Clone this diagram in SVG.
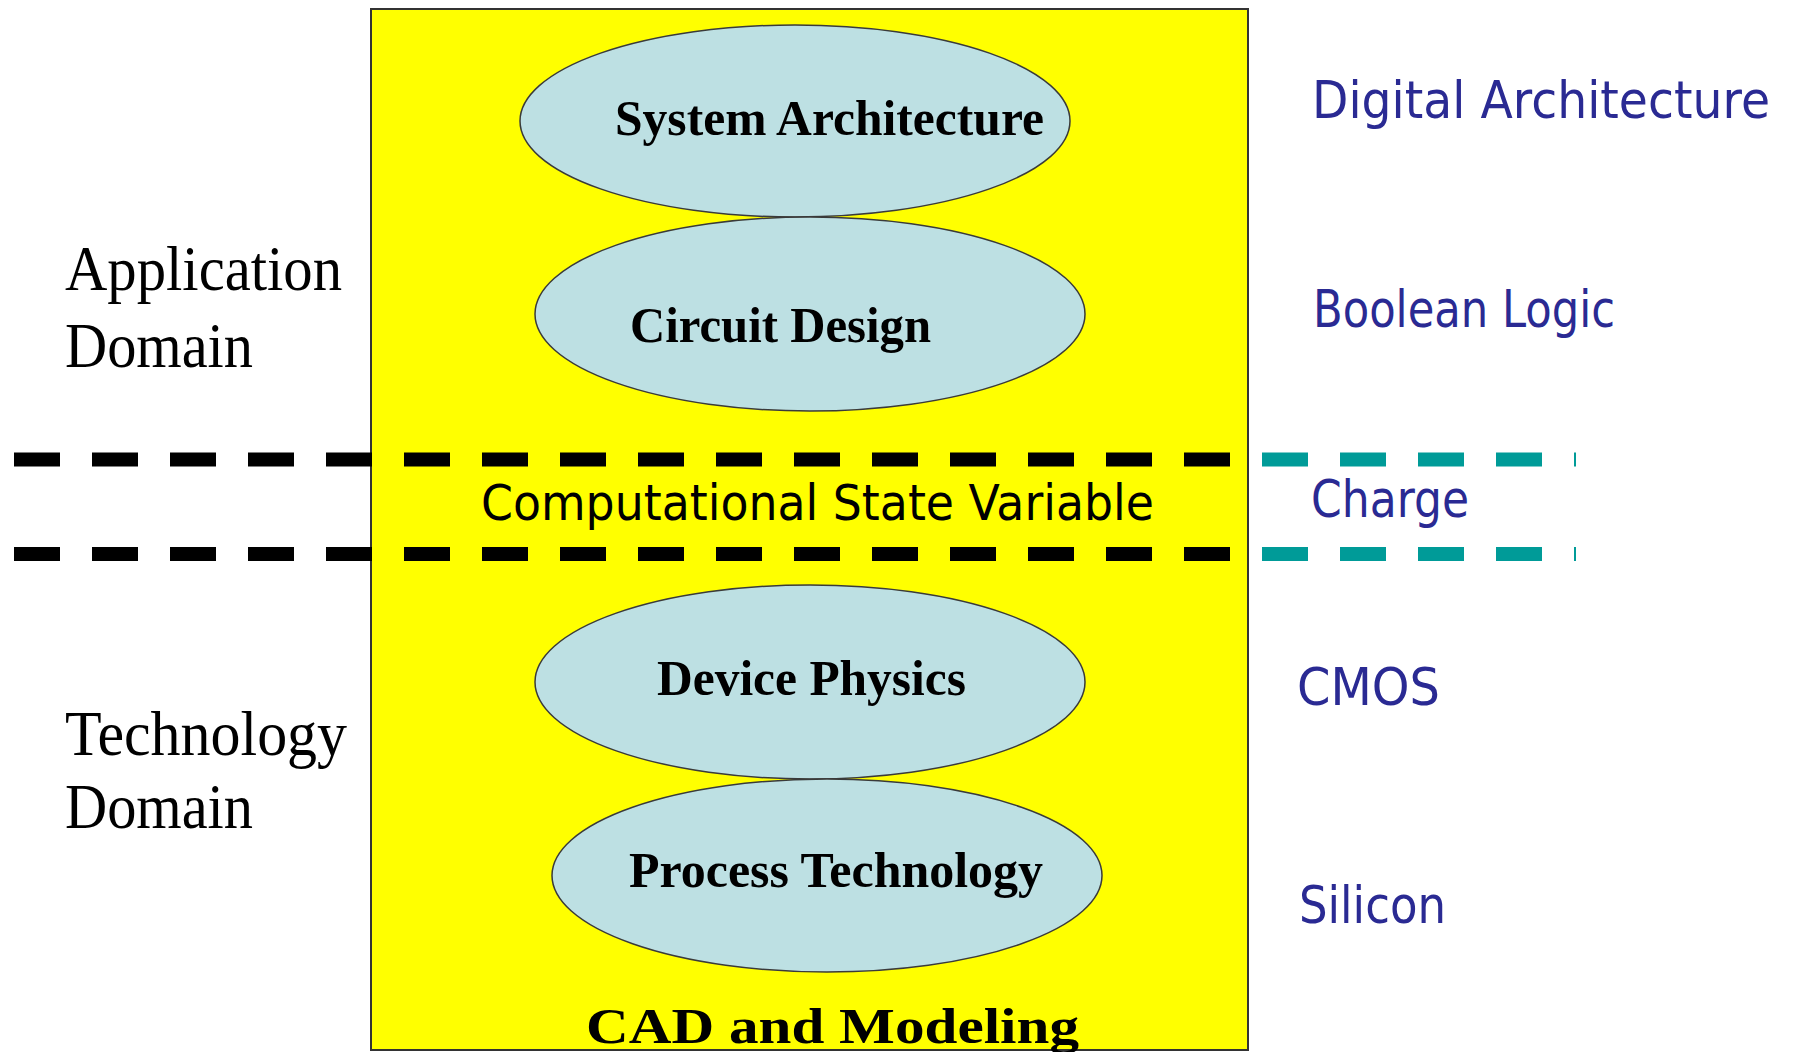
<svg xmlns="http://www.w3.org/2000/svg" width="1795" height="1052" viewBox="0 0 1795 1052">
<style>
.bg{fill:#ffffff}
.panel{fill:#ffff00;stroke:#333333;stroke-width:2}
.oval{fill:#bde0e3;stroke:#3a3a3a;stroke-width:1.5}
.otxt{font-family:"Liberation Serif","Times New Roman",serif;font-weight:bold;font-size:50px;fill:#000000}
.dom{font-family:"Liberation Serif","Times New Roman",serif;font-size:64px;fill:#000000}
.hand{font-family:"DejaVu Sans","Liberation Sans",sans-serif;font-size:52px;fill:#2a2a93}
.csv{font-family:"DejaVu Sans","Liberation Sans",sans-serif;font-size:50px;fill:#000000}
.dashK{stroke:#000000;stroke-width:14;stroke-dasharray:46 32;fill:none}
.dashT{stroke:#009b98;stroke-width:14;stroke-dasharray:46 32;fill:none}
</style>
<rect class="bg" x="0" y="0" width="1795" height="1052"/>
<g id="cad-panel">
<rect class="panel" x="371" y="9" width="877" height="1041"/>
<text class="otxt" x="586" y="1043" font-size="62" textLength="493" lengthAdjust="spacingAndGlyphs">CAD and Modeling</text>
</g>
<g id="system-architecture">
<ellipse class="oval" cx="795" cy="121" rx="275" ry="96"/>
<text class="otxt" x="615" y="135" textLength="429" lengthAdjust="spacingAndGlyphs">System Architecture</text>
</g>
<g id="circuit-design">
<ellipse class="oval" cx="810" cy="314" rx="275" ry="97"/>
<text class="otxt" x="630" y="342" textLength="301" lengthAdjust="spacingAndGlyphs">Circuit Design</text>
</g>
<g id="device-physics">
<ellipse class="oval" cx="810" cy="682" rx="275" ry="97"/>
<text class="otxt" x="657" y="695" textLength="309" lengthAdjust="spacingAndGlyphs">Device Physics</text>
</g>
<g id="process-technology">
<ellipse class="oval" cx="827" cy="875.5" rx="275" ry="96.5"/>
<text class="otxt" x="629" y="887" textLength="414" lengthAdjust="spacingAndGlyphs">Process Technology</text>
</g>
<g id="connectors">
<line class="dashK" x1="14" y1="459.5" x2="1248" y2="459.5"/>
<line class="dashK" x1="14" y1="554" x2="1248" y2="554"/>
<line class="dashT" x1="1262" y1="459.5" x2="1576" y2="459.5"/>
<line class="dashT" x1="1262" y1="554" x2="1576" y2="554"/>
</g>
<g id="computational-state-variable">
<text class="csv" x="481" y="520" textLength="673" lengthAdjust="spacingAndGlyphs">Computational State Variable</text>
</g>
<g id="application-domain">
<text class="dom" x="65" y="290" textLength="277" lengthAdjust="spacingAndGlyphs">Application</text>
<text class="dom" x="65" y="367" textLength="188" lengthAdjust="spacingAndGlyphs">Domain</text>
</g>
<g id="technology-domain">
<text class="dom" x="65" y="755" textLength="282" lengthAdjust="spacingAndGlyphs">Technology</text>
<text class="dom" x="65" y="828" textLength="188" lengthAdjust="spacingAndGlyphs">Domain</text>
</g>
<g id="digital-architecture">
<text class="hand" x="1312" y="118" font-size="49" textLength="458" lengthAdjust="spacingAndGlyphs">Digital Architecture</text>
</g>
<g id="boolean-logic">
<text class="hand" x="1313" y="327" textLength="302" lengthAdjust="spacingAndGlyphs">Boolean Logic</text>
</g>
<g id="charge">
<text class="hand" x="1311" y="517" textLength="158" lengthAdjust="spacingAndGlyphs">Charge</text>
</g>
<g id="cmos">
<text class="hand" x="1297" y="705" textLength="143" lengthAdjust="spacingAndGlyphs">CMOS</text>
</g>
<g id="silicon">
<text class="hand" x="1299" y="923" textLength="147" lengthAdjust="spacingAndGlyphs">Silicon</text>
</g>
</svg>
